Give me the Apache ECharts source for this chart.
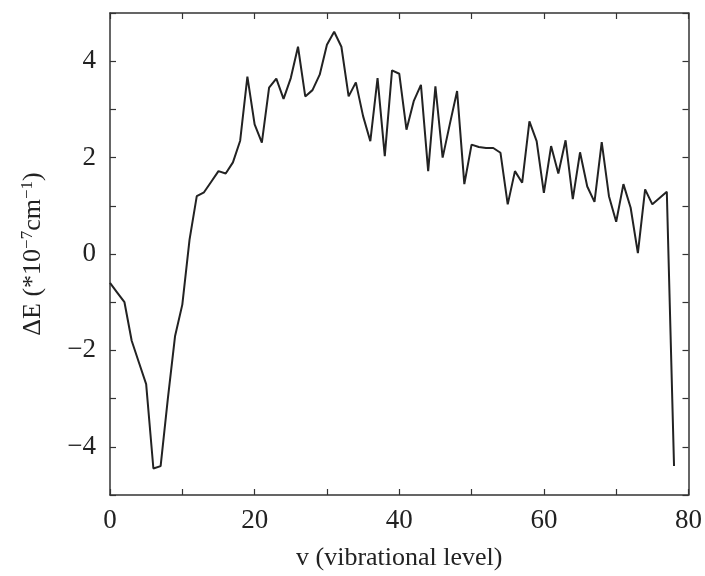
<!DOCTYPE html>
<html>
<head>
<meta charset="utf-8">
<script src="https://cdn.jsdelivr.net/npm/echarts@6/dist/echarts.min.js"></script>
<style>html,body{margin:0;padding:0;background:#fff;}#c{width:705px;height:576px;}</style>
</head>
<body>
<div id="c"></div>
<script>
var levels = [];
for (var i = 0; i <= 78; i++) levels.push(i);
var deltaE = [
 -0.6, -0.8, -1.0, -1.8, -2.25, -2.7, -4.45, -4.4, -3.0, -1.7,
 -1.05, 0.3, 1.2, 1.28, 1.5, 1.72, 1.67, 1.9, 2.35, 3.68,
 2.69, 2.31, 3.45, 3.64, 3.22, 3.65, 4.3, 3.27, 3.4, 3.72,
 4.34, 4.61, 4.3, 3.27, 3.56, 2.86, 2.34, 3.65, 2.03, 3.81,
 3.74, 2.58, 3.17, 3.51, 1.72, 3.48, 2.0, 2.7, 3.38, 1.45,
 2.27, 2.22, 2.2, 2.2, 2.1, 1.03, 1.72, 1.48, 2.75, 2.34,
 1.27, 2.24, 1.67, 2.36, 1.14, 2.11, 1.4, 1.08, 2.32, 1.2,
 0.67, 1.45, 0.96, 0.02, 1.34, 1.03, 1.16, 1.29, -4.4
];
var xTickLabels = [0, 20, 40, 60, 80];
var yTickLabels = [-4, -2, 0, 2, 4];

var pts = levels.map(function (v, i) { return [v, deltaE[i]]; });
var font = 'Liberation Serif';
function fmtX(v) { return xTickLabels.indexOf(v) >= 0 ? String(v) : ''; }
function fmtY(v) { return yTickLabels.indexOf(v) >= 0 ? String(v).replace('-', '\u2212') : ''; }
var lineSt = { color: '#333', width: 1.5 };
var tickSt = { inside: true, length: 6, lineStyle: { color: '#333', width: 1.2 } };

var chart = echarts.init(document.getElementById('c'));
chart.setOption({
  animation: false,
  backgroundColor: '#fff',
  grid: { left: 110, right: 11, top: 13, bottom: 79 },
  xAxis: [{
    type: 'value', min: 0, max: 80, interval: 10, position: 'bottom',
    axisLine: { onZero: false, lineStyle: lineSt },
    axisTick: tickSt,
    splitLine: { show: false },
    axisLabel: { formatter: fmtX, fontFamily: font, fontSize: 27, color: '#222', margin: 12 },
    name: 'v (vibrational level)', nameLocation: 'middle', nameGap: 50,
    nameTextStyle: { fontFamily: font, fontSize: 26, color: '#222' }
  }, {
    type: 'value', min: 0, max: 80, interval: 10, position: 'top',
    axisLine: { onZero: false, lineStyle: lineSt },
    axisTick: tickSt,
    splitLine: { show: false }, axisLabel: { show: false }
  }],
  yAxis: [{
    type: 'value', min: -5, max: 5, interval: 1, position: 'left',
    axisLine: { onZero: false, lineStyle: lineSt },
    axisTick: tickSt,
    splitLine: { show: false },
    axisLabel: { formatter: fmtY, fontFamily: font, fontSize: 27, color: '#222', margin: 14 },
    name: '\u0394E (*10{sup|\u22127}cm{sup|\u22121})', nameLocation: 'middle', nameGap: 62,
    nameTextStyle: {
      fontFamily: font, fontSize: 26, color: '#222',
      rich: { sup: { fontFamily: font, fontSize: 17, color: '#222', verticalAlign: 'top', padding: [0, 0, 12, 0] } }
    }
  }, {
    type: 'value', min: -5, max: 5, interval: 1, position: 'right',
    axisLine: { onZero: false, lineStyle: lineSt },
    axisTick: tickSt,
    splitLine: { show: false }, axisLabel: { show: false }
  }],
  series: [{
    type: 'line', data: pts, xAxisIndex: 0, yAxisIndex: 0,
    showSymbol: false, symbol: 'none',
    lineStyle: { color: '#222', width: 2 }
  }]
});
</script>
</body>
</html>
